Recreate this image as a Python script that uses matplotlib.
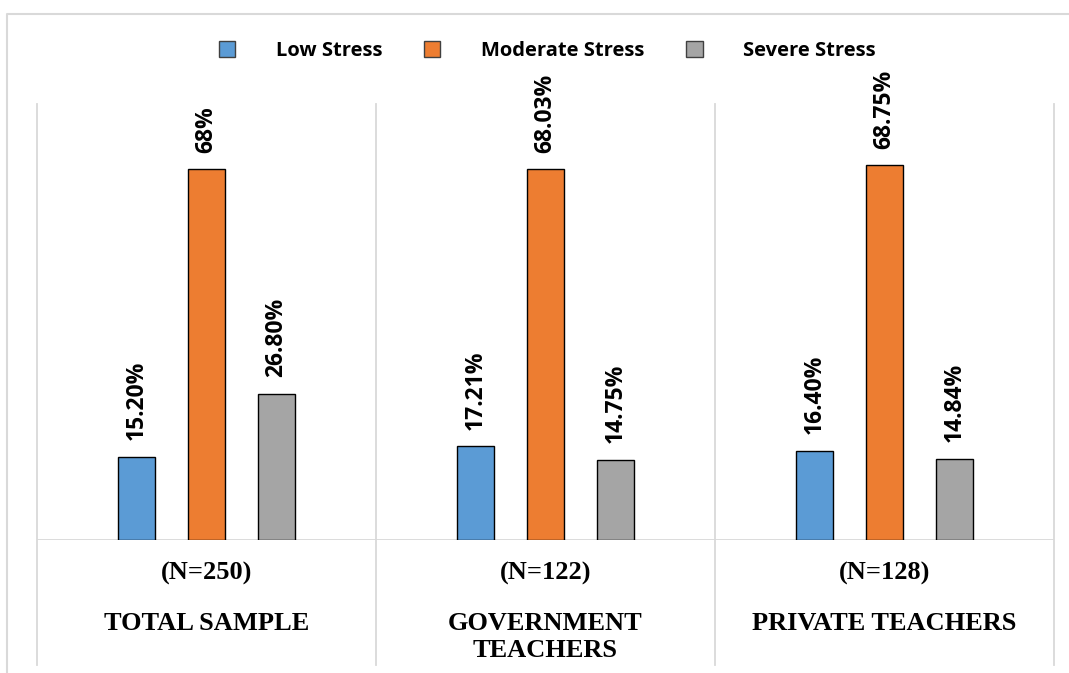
import matplotlib.pyplot as plt
import numpy as np
from matplotlib.lines import Line2D
from matplotlib.patches import Patch
import matplotlib.transforms as mtransforms

groups = ["(N=250)", "(N=122)", "(N=128)"]
group_names = ["TOTAL SAMPLE", "GOVERNMENT\nTEACHERS", "PRIVATE TEACHERS"]
series = ["Low Stress", "Moderate Stress", "Severe Stress"]
low = [15.20, 17.21, 16.40]
moderate = [68.00, 68.03, 68.75]
severe = [26.80, 14.75, 14.84]
value_labels = [["15.20%", "17.21%", "16.40%"],
                ["68%", "68.03%", "68.75%"],
                ["26.80%", "14.75%", "14.84%"]]

colors = ["#5B9BD5", "#ED7D31", "#A5A5A5"]
grid_col = "#D9D9D9"
sans = ["Open Sans", "DejaVu Sans"]
serif = ["Liberation Serif", "DejaVu Serif"]

fig = plt.figure(figsize=(10.69, 6.73), dpi=100)
ax = fig.add_axes((37 / 1069, 133 / 673, 1017 / 1069, 436 / 673))

x = np.arange(len(groups))
width = 0.109
offset = 0.2065

handles = []
for i, vals in enumerate([low, moderate, severe]):
    bars = ax.bar(x + (i - 1) * offset, vals, width, color=colors[i],
                  edgecolor="black", linewidth=1.0, zorder=3)
    handles.append(Patch(facecolor=colors[i], edgecolor="#404040", linewidth=1.0))
    for b, txt in zip(bars, value_labels[i]):
        ax.annotate(txt, (b.get_x() + b.get_width() / 2, b.get_height()),
                    xytext=(0, 12), textcoords="offset points",
                    rotation=90, ha="center", va="bottom",
                    fontsize=16.5, fontweight="bold", family=sans)

ax.set_xlim(-0.5, 2.5)
ax.set_ylim(0, 80)
ax.set_xticks([])
ax.set_yticks([])
for s in ax.spines.values():
    s.set_visible(False)

# baseline and category dividers running down through the label area
ax.axhline(0, color=grid_col, linewidth=1.3, zorder=2)
trans = mtransforms.blended_transform_factory(ax.transData, ax.transAxes)
for xv in [-0.5, 0.5, 1.5, 2.5]:
    ax.plot([xv, xv], [-0.287, 1.0], color=grid_col, linewidth=1.3,
            transform=trans, clip_on=False)

# category labels
for i in range(len(groups)):
    ax.text(i, -0.077, groups[i], transform=trans, ha="center", va="center",
            fontsize=19, fontweight="bold", family=serif)
    ax.text(i, -0.164, group_names[i], transform=trans, ha="center", va="top",
            fontsize=19, fontweight="bold", family=serif, linespacing=1.25)

# chart border (top and left)
fig.add_artist(Line2D([7 / 1069, 7 / 1069, 1.0], [0.0, 1 - 14 / 673, 1 - 14 / 673],
                      color=grid_col, linewidth=1.5, transform=fig.transFigure))

fig.legend(handles, series, loc="center", bbox_to_anchor=(0.512, 1 - 51 / 673),
           ncol=3, frameon=False, handlelength=0.8, handleheight=0.8,
           handletextpad=2.0, columnspacing=2.1,
           prop={"family": sans, "weight": "bold", "size": 14.5})

fig.savefig("out.png", dpi=100)
